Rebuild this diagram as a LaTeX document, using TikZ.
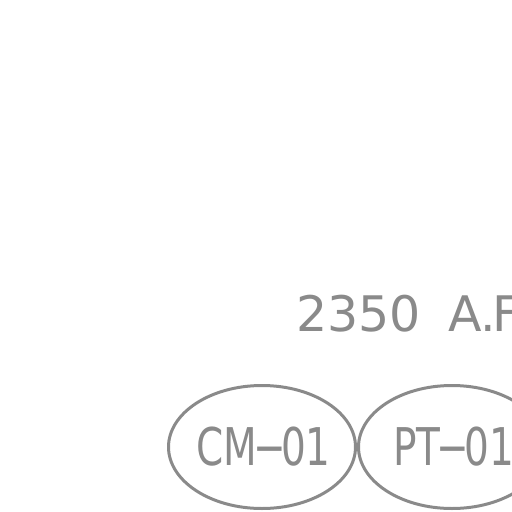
\documentclass[tikz,border=0pt]{standalone}
\usepackage{fontspec}
\setmainfont{DejaVu Sans}[FakeStretch=0.75]
\newfontfamily\flowfont{DejaVu Sans}
\usetikzlibrary{shapes.geometric}

\definecolor{tagGray}{RGB}{138,138,138}

\newcommand{\tagdash}{\hspace{-4pt}−\hspace{-5pt}}

\tikzset{
    tag/.style={draw=tagGray, line width=3pt, ellipse, inner sep=-20pt,
        minimum width=187pt, minimum height=123pt,
        text=tagGray, font=\fontsize{52}{52}\selectfont},
    flow/.style={text=tagGray, font=\flowfont\fontsize{49}{49}\selectfont, anchor=base west, inner sep=0pt}
}

\begin{document}
\begin{tikzpicture}[x=1pt, y=-1pt]

    % Frame
    \useasboundingbox (0, 0) rectangle (512, 512);
    \clip (0, 0) rectangle (512, 512);
    
    % Add Flow Label
    \node[flow] (flowrate) at (296, 331) {2350\hspace{28pt}A\hspace{-2pt}.\hspace{-3pt}F};
    
    % Draw Tags
    \node[tag] (cm01) at (262, 447) {\hspace{3pt}CM\tagdash 01};
    \node[tag] (pt01) at (452, 447) {\hspace{3pt}PT\tagdash 01};
\end{tikzpicture}
\end{document}
